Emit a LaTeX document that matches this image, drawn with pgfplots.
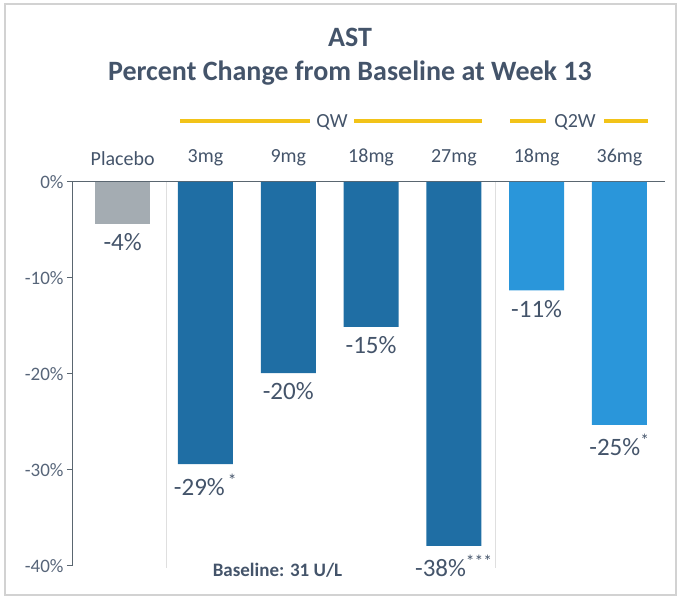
\documentclass[border=0pt]{standalone}
\usepackage{fontspec}
\setmainfont{Carlito}
\usepackage{pgfplots}
\pgfplotsset{compat=1.18}
\definecolor{clrGray}{HTML}{A4ACB2}
\definecolor{clrDark}{HTML}{1F6EA4}
\definecolor{clrLight}{HTML}{2A96DA}
\definecolor{clrGold}{HTML}{F2C318}
\definecolor{clrText}{HTML}{44546A}
\definecolor{clrAxis}{HTML}{5A6670}

\begin{document}
\begin{tikzpicture}[x=1pt,y=1pt]
\useasboundingbox (0,0) rectangle (681,599);
\draw[gray!35, line width=1.5pt] (5,4) rectangle (676,595);
% title
\node[font=\bfseries\fontsize{28}{30}\selectfont, text=clrText] at (350,562) {AST};
\node[font=\bfseries\fontsize{28}{30}\selectfont, text=clrText] at (350,526) {Percent Change from Baseline at Week 13};
% dosing groups
\draw[clrGold, line width=4pt] (180,478) -- (310,478) (354,478) -- (482,478);
\node[font=\fontsize{20}{22}\selectfont, text=clrText] at (332,477) {QW};
\draw[clrGold, line width=4pt] (510,478) -- (546,478) (604,478) -- (648,478);
\node[font=\fontsize{20}{22}\selectfont, text=clrText] at (575,477) {Q2W};
\begin{axis}[
  at={(73pt,33pt)}, anchor=south west,
  width=592pt, height=384pt, scale only axis,
  xmin=-0.6, xmax=6.55, ymin=-40, ymax=0,
  axis x line*=top, axis y line*=left,
  axis line style={clrAxis, line width=1pt},
  xtick={0,...,6},
  xticklabels={Placebo,3mg,9mg,18mg,27mg,18mg,36mg},
  xticklabel pos=upper,
  x tick label style={font=\fontsize{20}{22}\selectfont, text=clrText, yshift=7pt},
  xtick style={draw=none},
  ytick={-40,-30,-20,-10,0},
  yticklabels={-40\%,-30\%,-20\%,-10\%,0\%},
  y tick label style={font=\fontsize{19}{21}\selectfont, text=clrText!90},
  ytick style={clrAxis, line width=1pt},
  tick align=outside, major tick length=6pt,
  ybar, bar width=55pt, bar shift=0pt,
  point meta=explicit symbolic,
  nodes near coords,
  every node near coord/.append style={anchor=north, yshift=-6pt,
    font=\fontsize{25}{27}\selectfont, text=clrText},
  clip=false,
]
\draw[gray!25, line width=1pt] (axis cs:0.53,0) -- (axis cs:0.53,-40.2);
\draw[gray!25, line width=1pt] (axis cs:4.5,0) -- (axis cs:4.5,-40.2);
\addplot[fill=clrGray, draw=none] coordinates {(0,-4.4) [-4\%]};
\addplot[fill=clrDark, draw=none] coordinates {
  (1,-29.4) [-29\%\textsuperscript{\,*}]
  (2,-19.9) [-20\%]
  (3,-15.1) [-15\%]
  (4,-37.9) [-38\%\textsuperscript{***}]
};
\addplot[fill=clrLight, draw=none] coordinates {
  (5,-11.3) [-11\%]
  (6,-25.3) [-25\%\textsuperscript{*}]
};
\node[font=\bfseries\fontsize{19}{21}\selectfont, text=clrText] at (axis cs:1.87,-40.4) {Baseline: 31 U/L};
\end{axis}
\end{tikzpicture}
\end{document}
